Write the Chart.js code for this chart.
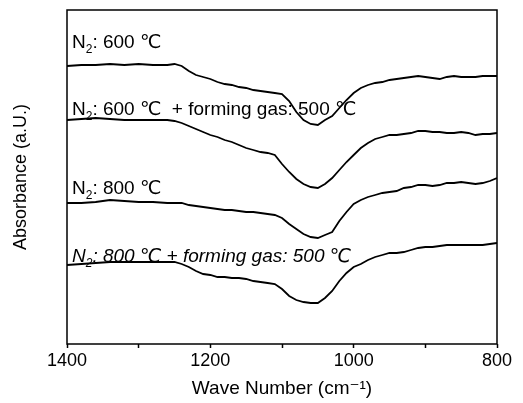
<!DOCTYPE html>
<html>
<head>
<meta charset="utf-8">
<script src="https://cdn.jsdelivr.net/npm/chart.js@4"></script>
<style>
  html, body { margin: 0; padding: 0; background: #fff; }
  #wrap { width: 523px; height: 403px; }
</style>
</head>
<body>
<div id="wrap"><canvas id="ir-chart"></canvas></div>
<script>
  // wave number grid (cm-1)
  var waveNumbers = [1400, 1380, 1360, 1340, 1320, 1300, 1280, 1260, 1250, 1240,
    1230, 1220, 1210, 1200, 1190, 1180, 1170, 1160, 1150, 1140,
    1130, 1120, 1110, 1100, 1090, 1080, 1070, 1060, 1050, 1040,
    1030, 1020, 1010, 1000, 990, 980, 970, 960, 950, 940,
    930, 920, 910, 900, 890, 880, 870, 860, 850, 840,
    830, 820, 810, 800];

  // absorbance (a.U., stacked traces)
  var n2At600 = [278, 279, 279, 280, 279, 280, 279, 279, 280, 278,
    273, 269, 267, 265, 262, 260, 259, 257, 256, 254,
    253, 252, 251, 250, 243, 232, 224, 220, 219, 224,
    228, 236, 244, 251, 256, 259, 261, 262, 264, 265,
    266, 267, 268, 267, 266, 265, 267, 268, 267, 267,
    267, 268, 268, 268];
  var n2At600Forming = [224, 225, 226, 225, 224, 224, 224, 224, 223, 221,
    218, 215, 212, 209, 207, 204, 202, 199, 196, 194,
    192, 191, 189, 180, 172, 165, 160, 157, 156, 160,
    166, 174, 182, 189, 196, 201, 205, 207, 209, 209,
    210, 211, 213, 213, 212, 212, 211, 211, 212, 211,
    209, 210, 210, 211];
  var n2At800 = [141, 141, 142, 144, 143, 142, 142, 141, 141, 141,
    139, 138, 137, 136, 135, 134, 134, 133, 132, 132,
    131, 130, 129, 126, 120, 115, 110, 107, 106, 109,
    112, 123, 132, 140, 144, 147, 149, 151, 152, 153,
    156, 157, 159, 159, 158, 159, 161, 161, 162, 161,
    160, 161, 163, 166];
  var n2At800Forming = [79, 80, 81, 82, 82, 82, 82, 82, 82, 80,
    77, 73, 70, 69, 67, 67, 66, 66, 65, 63,
    62, 61, 60, 55, 48, 44, 42, 41, 41, 46,
    53, 63, 71, 77, 80, 84, 87, 89, 91, 91,
    92, 94, 96, 97, 97, 98, 99, 99, 99, 99,
    99, 99, 100, 101];

  var seriesNames = ["N2: 600 C", "N2: 600 C + forming gas: 500 C", "N2: 800 C", "N2: 800 C + forming gas: 500 C"];

  // trace labels: [text after the subscript, baseline absorbance, italic]
  var traceLabels = [
    [": 600 \u2103", 296, false],
    [": 600 \u2103  + forming gas: 500 \u2103", 229, false],
    [": 800 \u2103", 150, false],
    [": 800 \u2103 + forming gas: 500 \u2103", 82, true]
  ];
  var labelWave = 1393;

  var xTicksMajor = [1400, 1200, 1000, 800];

  var fontFamily = "'Liberation Sans', Arial, 'DejaVu Sans', 'Noto Sans CJK KR', sans-serif";

  function toPoints(values) {
    return waveNumbers.map(function (w, i) { return { x: w, y: values[i] }; });
  }

  function trace(label, values) {
    return {
      label: label,
      data: toPoints(values),
      borderColor: "#000",
      borderWidth: 1.8,
      pointRadius: 0,
      tension: 0,
      fill: false
    };
  }

  var framePlugin = {
    id: "frame",
    afterDatasetsDraw: function (chart) {
      var a = chart.chartArea;
      var ctx = chart.ctx;
      ctx.save();
      ctx.strokeStyle = "#000";
      ctx.lineWidth = 1.5;
      ctx.strokeRect(a.left, a.top, a.right - a.left, a.bottom - a.top);
      ctx.restore();
    }
  };

  var labelPlugin = {
    id: "traceLabels",
    afterDatasetsDraw: function (chart) {
      var ctx = chart.ctx;
      var xs = chart.scales.x;
      var ys = chart.scales.y;
      ctx.save();
      ctx.fillStyle = "#000";
      ctx.textBaseline = "alphabetic";
      traceLabels.forEach(function (item) {
        var style = item[2] ? "italic " : "";
        var x = xs.getPixelForValue(labelWave);
        var y = ys.getPixelForValue(item[1]);
        ctx.font = style + "19px " + fontFamily;
        ctx.fillText("N", x, y);
        x += ctx.measureText("N").width;
        ctx.font = style + "12px " + fontFamily;
        ctx.fillText("2", x, y + 5);
        x += ctx.measureText("2").width;
        ctx.font = style + "19px " + fontFamily;
        ctx.fillText(item[0], x, y);
      });
      ctx.restore();
    }
  };

  new Chart(document.getElementById("ir-chart"), {
    type: "line",
    data: {
      datasets: [
        trace(seriesNames[0], n2At600),
        trace(seriesNames[1], n2At600Forming),
        trace(seriesNames[2], n2At800),
        trace(seriesNames[3], n2At800Forming)
      ]
    },
    options: {
      responsive: true,
      maintainAspectRatio: false,
      animation: false,
      layout: { padding: { left: 10, right: 26, top: 10, bottom: 0 } },
      plugins: { legend: { display: false }, tooltip: { enabled: false } },
      scales: {
        x: {
          type: "linear",
          reverse: true,
          min: 800,
          max: 1400,
          afterFit: function (axis) { axis.height = 59; },
          border: { display: false },
          grid: { display: true, drawOnChartArea: false, drawTicks: true, tickLength: 4, color: "#000", tickWidth: 1.5 },
          ticks: {
            stepSize: 100,
            padding: 2,
            color: "#000",
            font: { family: fontFamily, size: 18 },
            maxRotation: 0,
            callback: function (v) { return xTicksMajor.indexOf(v) >= 0 ? String(v) : ""; }
          },
          title: {
            display: true,
            text: "Wave Number (cm\u207B\u00B9)",
            color: "#000",
            font: { family: fontFamily, size: 19 },
            padding: { top: 0, bottom: 3 }
          }
        },
        y: {
          min: 0,
          max: 334,
          afterFit: function (axis) { axis.width = 57; },
          border: { display: false },
          grid: { display: false },
          ticks: { display: false },
          title: {
            display: true,
            text: "Absorbance (a.U.)",
            color: "#000",
            font: { family: fontFamily, size: 18 },
            padding: { top: 0, bottom: 0 }
          }
        }
      }
    },
    plugins: [framePlugin, labelPlugin]
  });
</script>
</body>
</html>
